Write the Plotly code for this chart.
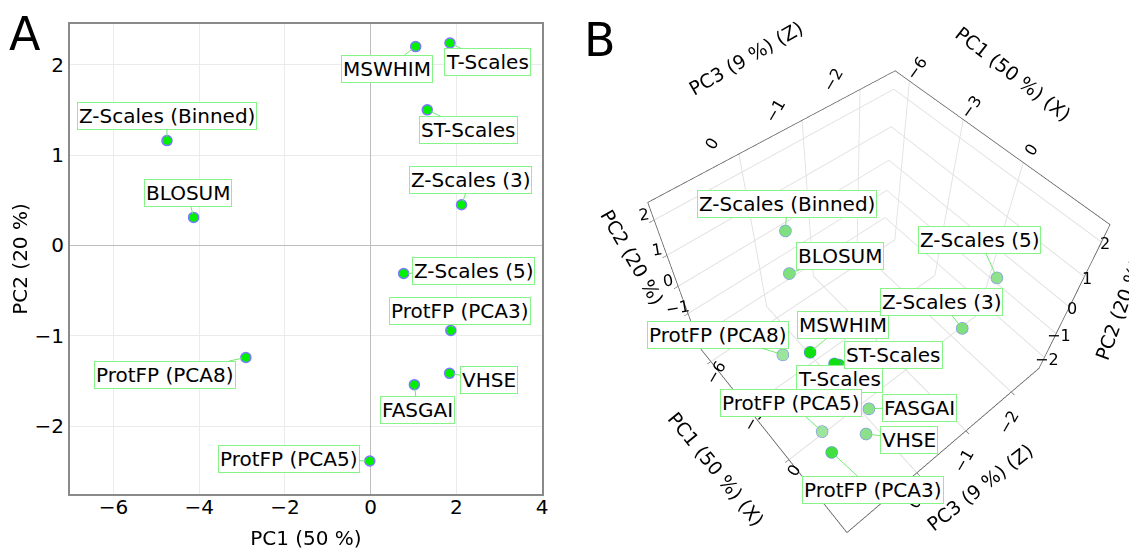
import plotly.graph_objects as go

# ---------------- data ----------------
names = ["MSWHIM", "T-Scales", "ST-Scales", "Z-Scales (Binned)", "BLOSUM",
         "Z-Scales (3)", "Z-Scales (5)", "ProtFP (PCA3)", "ProtFP (PCA8)",
         "VHSE", "FASGAI", "ProtFP (PCA5)"]
pc1 = [1.05, 1.85, 1.32, -4.75, -4.13, 2.12, 0.77, 1.87, -2.91, 1.84, 1.02, -0.02]
pc2 = [2.20, 2.24, 1.50, 1.16, 0.31, 0.45, -0.31, -0.94, -1.24, -1.415, -1.54, -2.385]
pc3 = [1.0, 0.9, 0.7, -0.1, 0.05, -1.1, -2.4, 1.0, 0.58, 0.4, 0.1, 0.68]

x_title = "PC1 (50 %)"
y_title = "PC2 (20 %)"
x3_title = "PC1 (50 %) (X)"
y3_title = "PC2 (20 %)"
z3_title = "PC3 (9 %) (Z)"

pc1_range = [-6.85, 3.8]
pc2_range = [-2.5, 2.45]
pc3_range = [-2.65, 1.3]
pc1_ticks = [-6, -3, 0]
pc2_ticks = [-2, -1, 0, 1, 2]
pc3_ticks = [-2, -1, 0]

# ---------------- style ----------------
FONT = "DejaVu Sans"
LBL = 20
GREEN_BOX = "#86f486"
GREEN_LINE = "#72e872"
OUTLINE = "#7a7aff"
W, H = 1129, 542          # page body has an 8px margin
OFF = 8

def px(xp):
    return (xp - OFF) / W

def py(yp):
    return 1 - (yp - OFF) / H

def lab(v):
    return ("−" + str(-v)) if v < 0 else str(v)

# label offsets (pixels) for panel A and panel B
offA = [(-29, 22), (38, 19), (41, 20), (0, -25), (-6, -24), (9, -25),
        (70, -2), (9, -19), (-81, 17), (39, 7), (3, 25), (-81, -2)]
offB = [(33, -27), (5, 15), (55, -10), (2, -27), (51, -17), (-21, -26),
        (-17, -38), (41, 38), (-65, -20), (43, 6), (51, -1), (-31, -28)]
colB = ["#10e010", "#10e010", "#10e010", "#80e080", "#80e080", "#80e080",
        "#90e090", "#40e040", "#9de49d", "#8ce08c", "#8ce08c", "#9de49d"]

fig = go.Figure()

fig.add_trace(go.Scatter(
    x=pc1, y=pc2, mode="markers", xaxis="x", yaxis="y",
    marker=dict(size=10, color="#00f000", line=dict(color=OUTLINE, width=1.5)),
    showlegend=False, hoverinfo="skip"))

fig.add_trace(go.Scatter3d(
    x=pc3, y=pc1, z=pc2, mode="markers", scene="scene",
    marker=dict(size=7, color=colB, line=dict(color=OUTLINE, width=1.5), opacity=1),
    showlegend=False, hoverinfo="skip"))

annA = []
for n, a, b, (dx, dy) in zip(names, pc1, pc2, offA):
    annA.append(dict(
        x=a, y=b, xref="x", yref="y", text=n, showarrow=True, arrowhead=0,
        arrowwidth=1, arrowcolor=GREEN_LINE, ax=dx, ay=dy, standoff=4,
        bgcolor="white", bordercolor=GREEN_BOX, borderwidth=1, borderpad=1,
        font=dict(family=FONT, size=LBL, color="black")))

annB = []
tfont = dict(family=FONT, size=16, color="black")
ttl = dict(family=FONT, size=19, color="black")
# tick labels on the far (top) edges
for v in pc3_ticks:
    annB.append(dict(x=v, y=pc1_range[0], z=pc2_range[1], text=lab(v), showarrow=False,
                     textangle=-60, xshift=-27, yshift=10, font=tfont))
for v in pc1_ticks:
    annB.append(dict(x=pc3_range[0], y=v, z=pc2_range[1], text=lab(v), showarrow=False,
                     textangle=-55, xshift=8, yshift=13, font=tfont))
for v in pc2_ticks:
    annB.append(dict(x=pc3_range[0], y=pc1_range[1], z=v, text=lab(v), showarrow=False,
                     xshift=3, yshift=-2, font=tfont))
# tick labels on the near edges
for v in pc2_ticks:
    annB.append(dict(x=pc3_range[1], y=pc1_range[0], z=v, text=lab(v), showarrow=False,
                     textangle=-10, xshift=-10, yshift=6, font=tfont))
for v in pc1_ticks:
    annB.append(dict(x=pc3_range[1], y=v, z=pc2_range[0], text=lab(v), showarrow=False,
                     textangle=-60, xshift=5, yshift=-11, font=tfont))
for v in pc3_ticks:
    annB.append(dict(x=v, y=pc1_range[1], z=pc2_range[0], text=lab(v), showarrow=False,
                     textangle=-60, xshift=-2, yshift=-30, font=tfont))
# axis titles
annB.append(dict(x=-0.7, y=pc1_range[0], z=pc2_range[1], text=z3_title, showarrow=False,
                 textangle=-30, xshift=-38, yshift=72, font=ttl))
annB.append(dict(x=pc3_range[0], y=-1.5, z=pc2_range[1], text=x3_title, showarrow=False,
                 textangle=38, xshift=21, yshift=66, font=ttl))
annB.append(dict(x=pc3_range[0], y=pc1_range[1], z=0, text=y3_title, showarrow=False,
                 textangle=-70, xshift=50, yshift=-2, font=ttl))
annB.append(dict(x=pc3_range[1], y=pc1_range[0], z=1, text=y3_title, showarrow=False,
                 textangle=60, xshift=-35, yshift=-2, font=ttl))
annB.append(dict(x=pc3_range[1], y=-3, z=pc2_range[0], text=x3_title, showarrow=False,
                 textangle=51, xshift=-32, yshift=-61, font=ttl))
annB.append(dict(x=-1.5, y=pc1_range[1], z=pc2_range[0], text=z3_title, showarrow=False,
                 textangle=-38, xshift=-9, yshift=-76, font=ttl))

for n, a, b, c3, (dx, dy) in zip(names, pc1, pc2, pc3, offB):
    annB.append(dict(
        x=c3, y=a, z=b, text=n, showarrow=True, arrowhead=0,
        arrowwidth=1, arrowcolor=GREEN_LINE, ax=dx, ay=dy, standoff=4,
        bgcolor="white", bordercolor=GREEN_BOX, borderwidth=1, borderpad=1,
        font=dict(family=FONT, size=LBL, color="black")))

annA.append(dict(x=px(25), y=py(34), xref="paper", yref="paper", xanchor="center",
                 yanchor="middle", text="A", showarrow=False,
                 font=dict(family=FONT, size=46, color="black")))
annA.append(dict(x=px(603), y=py(40), xref="paper", yref="paper", xanchor="center",
                 yanchor="middle", text="B", showarrow=False,
                 font=dict(family=FONT, size=46, color="black")))

axis3 = dict(showbackground=False, gridcolor="#e0e0e0", showline=True,
             linecolor="#555555", linewidth=1.5, zeroline=False, mirror=True,
             showticklabels=False, title=dict(text=""),
             ticks="outside", ticklen=4, tickcolor="#555555",
             showspikes=False)

c = dict(x=0.022, y=-0.103, z=0.019)
rel = (0.869, 1.052, 1.877)

fig.update_layout(
    width=W, height=H,
    margin=dict(l=0, r=0, t=0, b=0),
    paper_bgcolor="white", plot_bgcolor="white",
    font=dict(family=FONT, color="black"),
    xaxis=dict(domain=[px(70), px(545)], range=[-7.02, 4.0],
               tickvals=[-6, -4, -2, 0, 2, 4], ticktext=["−6", "−4", "−2", "0", "2", "4"],
               showgrid=True, gridcolor="#ebebeb", zeroline=True, zerolinecolor="#bdbdbd",
               zerolinewidth=1, showline=True, linecolor="#8a8a8a", linewidth=1.5, mirror=True,
               ticks="", ticklabelstandoff=-6,
               tickfont=dict(family=FONT, size=20, color="black"),
               title=dict(text=x_title, font=dict(family=FONT, size=20), standoff=16)),
    yaxis=dict(domain=[py(494), py(24)], range=[-2.75, 2.45],
               tickvals=[-2, -1, 0, 1, 2], ticktext=["−2", "−1", "0", "1", "2"],
               showgrid=True, gridcolor="#ebebeb", zeroline=True, zerolinecolor="#bdbdbd",
               zerolinewidth=1, showline=True, linecolor="#8a8a8a", linewidth=1.5, mirror=True,
               ticks="",
               tickfont=dict(family=FONT, size=20, color="black"),
               title=dict(text=y_title, font=dict(family=FONT, size=20), standoff=1)),
    scene=dict(
        domain=dict(x=[px(568), 1.0], y=[0.0, 1.0]),
        xaxis=dict(axis3, range=pc3_range, tickvals=pc3_ticks),
        yaxis=dict(axis3, range=pc1_range, tickvals=pc1_ticks),
        zaxis=dict(axis3, range=pc2_range, tickvals=pc2_ticks),
        aspectmode="manual", aspectratio=dict(x=1, y=0.94, z=0.88),
        camera=dict(eye=dict(x=c["x"] + rel[0], y=c["y"] + rel[1], z=c["z"] + rel[2]),
                    center=c, up=dict(x=0, y=0, z=1)),
        annotations=annB,
    ),
    annotations=annA,
)

fig.write_html("out.html")
